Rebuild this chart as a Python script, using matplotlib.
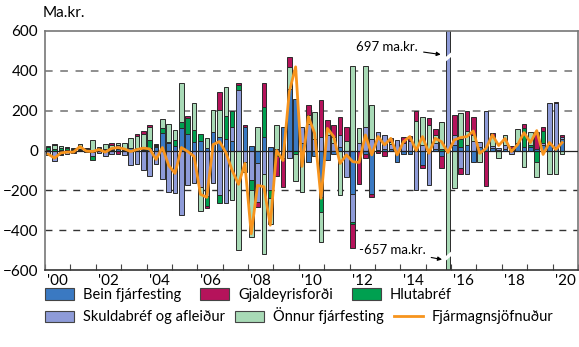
import numpy as np
import matplotlib.pyplot as plt
from matplotlib.lines import Line2D
from matplotlib.patches import Patch

plt.rcParams['font.family'] = ['Lato', 'DejaVu Sans']

# quarterly values 2000Q1 - 2020Q2, ma.kr.
bein = [5, -5, 5, 3, 3, 5, 3, -8, 5, 3, 5, 8, 5, 12, 10, 5,
        15, 18, 90, 40, 25, 115, 85, 42, 50, 13, 95, 69, 60, 50, 0, 120,
        22, -65, 70, 20, 10, 116, 310, 260, 40, -57, -30, -233, -48, -20, 20, 0,
        -216, 0, -20, -216, 5, 10, 10, -57, -20, -20, 0, -73, 0, 10, -30, 0,
        30, 20, 30, -60, 20, 20, 15, 5, 10, 15, 40, 20, 20, 10, 30, 30,
        20, 60]
skuld = [-25, -50, -20, -18, -10, -5, -10, -20, -12, -28, -18, 20, -25, -72, -70, -100,
         -128, -68, -145, -210, -215, -325, -175, -165, -185, -230, -165, -225, -266, 69, 303, -60,
         -150, -193, -116, -200, -10, -40, -40, 0, 80, 134, 60, 70, 80, 40, 60, -132,
         -143, 40, 120, 57, 90, 70, 25, 52, 40, 50, -196, 30, -174, 30, 0, 697,
         50, -90, -120, 50, 24, 176, 10, 10, 20, -20, 0, 0, 0, 0, 10, 207,
         216, 10]
hlut = [12, 10, 10, 8, 5, 5, 4, -20, 8, 5, 3, 2, 5, 3, 3, 5,
        40, 5, 25, 5, 30, 28, 80, 60, 35, -50, 0, -41, 115, 80, 25, 0,
        -50, 0, 150, -40, -20, 0, 0, -20, 0, 0, 0, -75, 0, 0, 0, 0,
        -10, 0, 0, 0, 0, 0, 0, 0, 0, 0, 0, 0, 0, 0, 10, 0,
        0, 40, 0, 0, 0, 0, 0, 0, 0, 0, 0, 93, 10, -60, 60, 0,
        0, 0]
onnur = [5, 20, 8, 6, 5, 25, 3, 55, 3, 25, 18, 10, 30, 50, 60, 75,
         65, 5, 42, 90, 50, 195, 0, 135, -120, 50, 110, 135, 146, -249, -501, -46,
         -234, 116, -402, -127, 117, 0, 110, -132, -210, 45, 135, -150, 20, 30, -225, 50,
         425, 71, 305, 172, 0, 0, 10, 0, 0, 0, 150, 140, 130, 38, 135, -657,
         -187, 127, 70, 30, -56, 0, 50, -40, 48, 0, 66, -85, 65, -72, 0, -120,
         -120, -20]
gjald = [0, 2, -3, 2, -3, 0, 2, 0, 0, 0, 12, -18, 0, 0, 10, 12,
         10, 3, 0, 0, 0, 0, 8, 0, 0, -8, 0, 92, 0, 0, 10, 8,
         0, -25, 118, 0, -100, -143, 50, 0, 0, 50, 0, 185, 53, 58, 90, 66,
         -123, -166, -20, -17, -15, -30, 20, 0, 30, 23, 49, -17, 32, 30, -56, 0,
         99, -30, 99, 87, 0, -177, 11, 0, 0, 10, 0, 20, 0, 85, 20, 0,
         10, 8]
fjarm = [-18, -38, -12, -8, -8, 20, -3, -5, 5, -8, 10, 15, 8, -5, 5, 12,
         8, -45, 15, -75, -115, 15, -5, -30, -220, -235, 30, 45, -10, -100, -170, -65,
         -418, -175, -182, -375, 0, -50, 295, 420, -80, 170, 86, -240, 111, 70, -65, -22,
         -56, -60, 78, -22, 70, 28, 61, -22, 44, 70, 0, 70, -14, 61, 44, -10,
         53, 65, 70, 98, -14, 10, 78, 25, 60, -5, 30, 90, 40, 100, -20, 40,
         5, 40]

series = [('Bein fjárfesting', bein, '#3a79c2'),
          ('Skuldabréf og afleiður', skuld, '#8e9bd8'),
          ('Hlutabréf', hlut, '#00a050'),
          ('Önnur fjárfesting', onnur, '#a8dab6'),
          ('Gjaldeyrisforði', gjald, '#b5135b')]

n = len(bein)
x = 2000 + 0.25 * np.arange(n) + 0.125

fig = plt.figure(figsize=(5.79, 3.47), dpi=100)
ax = fig.add_axes([45 / 579, 77 / 347, 533 / 579, 239 / 347])

pos = np.zeros(n)
neg = np.zeros(n)
for name, vals, col in series:
    v = np.array(vals, float)
    p = np.where(v > 0, v, 0)
    q = np.where(v < 0, v, 0)
    m = p > 0
    ax.bar(x[m], p[m], 0.18, bottom=pos[m], color=col, edgecolor='#2a2a2a', linewidth=0.7, zorder=2)
    m = q < 0
    ax.bar(x[m], q[m], 0.18, bottom=neg[m], color=col, edgecolor='#2a2a2a', linewidth=0.7, zorder=2)
    pos += p
    neg += q

for g in [400, 200]:
    ax.axhline(g, color='#707070', lw=1.1, ls=(0, (5, 5)), zorder=0)
for g in [-200, -400]:
    ax.axhline(g, color='#333333', lw=1.0, ls=(0, (5, 5)), zorder=0)
ax.axhline(0, color='#222222', lw=0.9, zorder=3)
ax.plot(x, fjarm, color='#f7941d', lw=2.0, zorder=5)

# breaks on the clipped 2015 bar
ax.plot([2015.76, 2015.99], [455, 480], color='white', lw=2.5, zorder=4)
ax.plot([2015.76, 2015.99], [-545, -520], color='white', lw=2.5, zorder=4)
ax.annotate('697 ma.kr.', xy=(2015.7, 480), xytext=(2014.7, 520), ha='right', va='center',
            fontsize=9.5, arrowprops=dict(arrowstyle='-|>', color='black', lw=0.8, mutation_scale=6))
ax.annotate('-657 ma.kr.', xy=(2015.75, -550), xytext=(2015.0, -500), ha='right', va='center',
            fontsize=9.5, arrowprops=dict(arrowstyle='-|>', color='black', lw=0.8, mutation_scale=6))

ax.set_xlim(2000, 2021)
ax.set_ylim(-600, 600)
ax.set_yticks(range(-600, 601, 200))
ax.tick_params(axis='y', length=0, labelsize=11, pad=5)
ax.set_xticks(range(2000, 2022))
ax.set_xticklabels([])
ax.set_xticks([y + 0.5 for y in range(2000, 2021, 2)], minor=True)
ax.set_xticklabels(["'%02d" % (y % 100) for y in range(2000, 2021, 2)], minor=True)
ax.tick_params(axis='x', which='major', direction='in', length=4, color='#444444')
ax.tick_params(axis='x', which='minor', length=0, labelsize=11, pad=3)
for s in ax.spines.values():
    s.set_color('#777777')
    s.set_linewidth(1.2)
ax.spines['bottom'].set_color('#333333')

fig.text(43 / 579, 1 - 13 / 347, 'Ma.kr.', fontsize=11, va='center')

def patch(c):
    return Patch(facecolor=c, edgecolor='#444444', linewidth=0.8)

row1 = [patch('#3a79c2'), patch('#b5135b'), patch('#00a050')]
row2 = [patch('#8e9bd8'), patch('#a8dab6'), Line2D([], [], color='#f7941d', lw=2)]
leg_kw = dict(ncol=3, frameon=False, fontsize=10.5, handlelength=2.0, handleheight=0.8,
              handletextpad=0.6, borderpad=0, borderaxespad=0, loc='center left')
fig.legend(row1, ['Bein fjárfesting', 'Gjaldeyrisforði', 'Hlutabréf'], columnspacing=1.3,
           bbox_to_anchor=(45 / 579, 1 - 295 / 347), **leg_kw)
fig.legend(row2, ['Skuldabréf og afleiður', 'Önnur fjárfesting', 'Fjármagnsjöfnuður'], columnspacing=0.7,
           bbox_to_anchor=(45 / 579, 1 - 316 / 347), **leg_kw)

fig.savefig('out.png', dpi=100)
